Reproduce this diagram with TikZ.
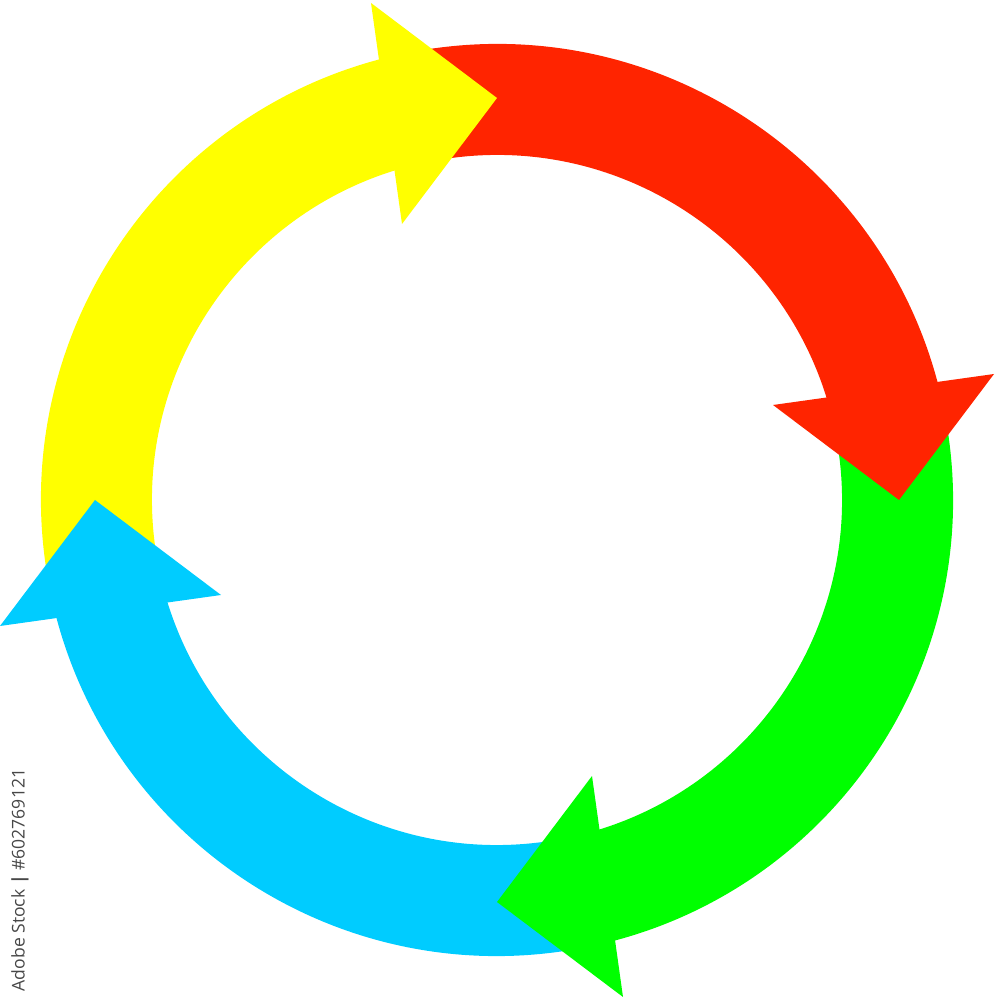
\documentclass[tikz,border=0pt]{standalone}
\usepackage{fontspec}
\setsansfont{Open Sans}
\usepackage{tikz}
\usetikzlibrary{calc}
\definecolor{arrred}{RGB}{255,36,0}
\definecolor{arryellow}{RGB}{255,255,0}
\definecolor{arrgreen}{RGB}{0,255,0}
\definecolor{arrblue}{RGB}{0,204,255}
\newcommand{\rout}{4.56}
\newcommand{\rin}{3.45}

\begin{document}
\begin{tikzpicture}[scale = 1]
    \tikzstyle{band}=[draw=none]
    \tikzstyle{head}=[draw=none]
    \tikzstyle{stamp}=[font=\sffamily\fontsize{5}{6}\selectfont, text=black!72, rotate=90, inner sep=0pt]

\useasboundingbox (-4.97,-5) rectangle (4.99,5);

% bodies first, then the heads on top
\foreach \rot/\col in {0/arrred, -90/arrgreen, 180/arrblue, 90/arryellow}{
  \fill[band, \col, rotate=\rot] (100:\rout) arc[start angle=100, end angle=10, radius=\rout]
      -- (10:\rin) arc[start angle=10, end angle=100, radius=\rin] -- cycle;
}
\foreach \rot/\col in {0/arrred, -90/arrgreen, 180/arrblue, 90/arryellow}{
  \fill[head, \col, rotate=\rot] (2.76,0.95) -- (4.97,1.26) -- (4.02,0) -- cycle;
}

\node[stamp] (id) at (-4.77,-3.8) {Adobe Stock \textbf{|} \#602769121};
\end{tikzpicture}
\end{document}
